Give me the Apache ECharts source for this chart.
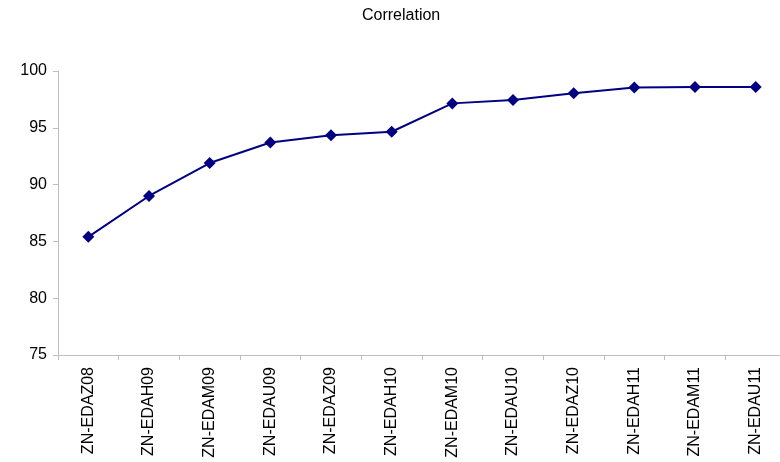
<!DOCTYPE html>
<html>
<head>
<meta charset="utf-8">
<script src="https://cdn.jsdelivr.net/npm/echarts@6/dist/echarts.min.js"></script>
<style>
  html, body { margin: 0; padding: 0; background: #fff; overflow: hidden; }
  /* the plot runs a few pixels past the right edge of the window */
  #chart { width: 786px; height: 462px; }
</style>
</head>
<body>
<div id="chart"></div>
<script>
// Contract months and their correlation values
const categories = ['ZN-EDAZ08', 'ZN-EDAH09', 'ZN-EDAM09', 'ZN-EDAU09', 'ZN-EDAZ09', 'ZN-EDAH10',
                    'ZN-EDAM10', 'ZN-EDAU10', 'ZN-EDAZ10', 'ZN-EDAH11', 'ZN-EDAM11', 'ZN-EDAU11'];
const correlation = [85.4, 89.0, 91.9, 93.7, 94.35, 94.65, 97.15, 97.45, 98.05, 98.55, 98.6, 98.6];
const yMin = 75, yMax = 100, yStep = 5;

const font = 'Arial, "Liberation Sans", sans-serif';
const axisGray = '#bfbfbf';

const chart = echarts.init(document.getElementById('chart'), null, { renderer: 'canvas' });
chart.setOption({
  animation: false,
  backgroundColor: '#ffffff',
  title: {
    text: 'Correlation',
    left: 357,
    top: 3,
    textStyle: { fontFamily: font, fontSize: 16, fontWeight: 'normal', color: '#000' }
  },
  grid: { left: 58, right: 0, top: 71, bottom: 107 },
  xAxis: {
    type: 'category',
    data: categories,
    boundaryGap: true,
    axisLine: { lineStyle: { color: axisGray, width: 1 } },
    axisTick: { show: true, length: 5, lineStyle: { color: axisGray } },
    axisLabel: {
      rotate: 90,
      margin: 12,
      interval: 0,
      color: '#000',
      fontFamily: font,
      fontSize: 16
    },
    splitLine: { show: false }
  },
  yAxis: {
    type: 'value',
    min: yMin,
    max: yMax,
    interval: yStep,
    axisLine: { show: true, lineStyle: { color: axisGray, width: 1 } },
    axisTick: { show: true, length: 5, lineStyle: { color: axisGray } },
    axisLabel: { margin: 11, color: '#000', fontFamily: font, fontSize: 16 },
    splitLine: { show: false }
  },
  series: [{
    type: 'line',
    data: correlation,
    symbol: 'diamond',
    symbolSize: 12,
    lineStyle: { color: '#000080', width: 2 },
    itemStyle: { color: '#000080' }
  }]
});
</script>
</body>
</html>
